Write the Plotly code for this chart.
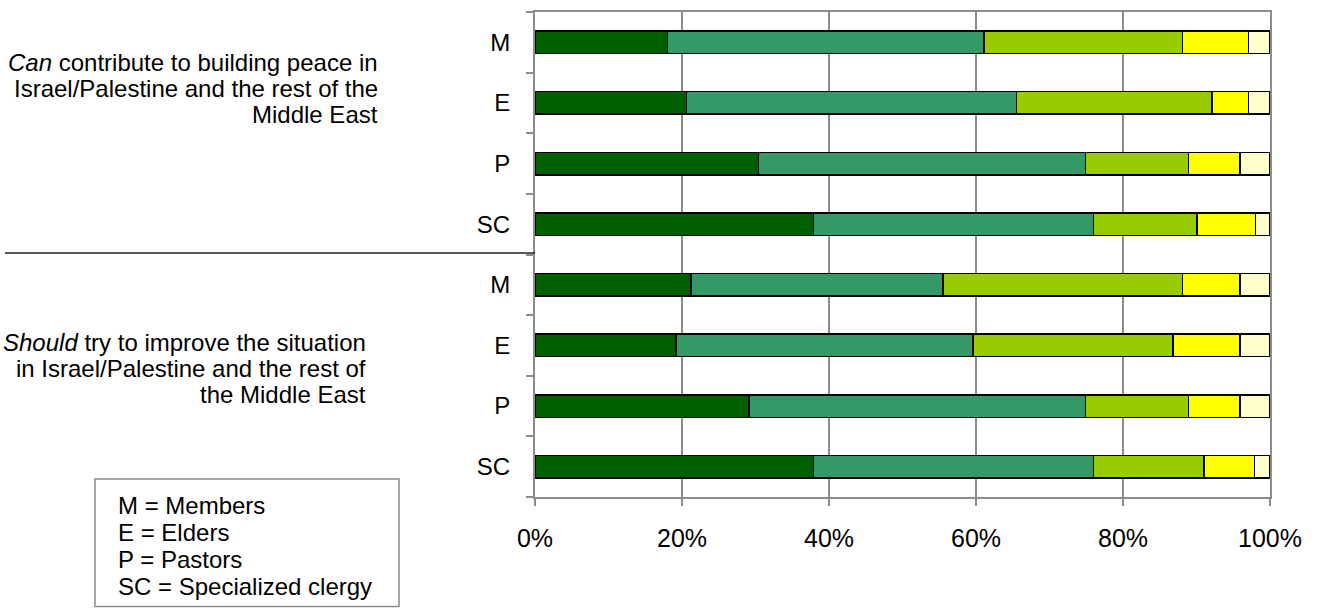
import plotly.graph_objects as go

# ---- data (top row first) ----
row_labels = ["M", "E", "P", "SC", "M", "E", "P", "SC"]
series_names = ["Strongly agree", "Agree", "Not sure", "Disagree", "Strongly disagree"]
strongly_agree = [18.0, 20.6, 30.4, 37.9, 21.2, 19.2, 29.1, 37.9]
agree = [43.1, 44.9, 44.5, 38.1, 34.3, 40.4, 45.8, 38.1]
not_sure = [27.0, 26.6, 14.0, 14.1, 32.6, 27.2, 14.0, 15.0]
disagree = [9.0, 5.0, 7.0, 7.9, 7.8, 9.1, 7.0, 6.9]
strongly_disagree = [2.9, 2.9, 4.1, 2.0, 4.1, 4.1, 4.1, 2.1]
x_ticks = [0, 20, 40, 60, 80, 100]

can_lines = ["<i>Can</i> contribute to building peace in",
             "Israel/Palestine and the rest of the",
             "Middle East"]
should_lines = ["<i>Should</i> try to improve the situation",
                "in Israel/Palestine and the rest of",
                "the Middle East"]
key_lines = ["M = Members", "E = Elders", "P = Pastors", "SC = Specialized clergy"]

colors = ["#006000", "#339966", "#99CC00", "#FFFF00", "#FFFFCC"]
series = [strongly_agree, agree, not_sure, disagree, strongly_disagree]
ypos = list(range(len(row_labels)))

FONT = "Liberation Sans, Arial, sans-serif"
W, H = 1317, 608
L, R, T, B = 535, 47, 10, 111
PW, PH = W - L - R, H - T - B


def px(x):
    return (x - L) / PW


def py(y):
    return (H - B - y) / PH


fig = go.Figure()
for name, vals, col in zip(series_names, series, colors):
    fig.add_trace(go.Bar(
        x=vals, y=ypos, orientation="h", name=name,
        marker=dict(color=col, line=dict(color="#000000", width=1.5)),
        width=0.37, showlegend=False,
    ))

fig.update_layout(
    width=W, height=H, barmode="stack",
    margin=dict(l=L, r=R, t=T, b=B, pad=0),
    paper_bgcolor="white", plot_bgcolor="white",
    font=dict(family=FONT, size=24, color="#000000"),
    xaxis=dict(
        range=[0, 100], tickvals=x_ticks, ticktext=[f"{v}%" for v in x_ticks],
        showgrid=True, gridcolor="#8c8c8c", gridwidth=2,
        showline=True, linecolor="#8c8c8c", linewidth=2, mirror=True,
        ticks="outside", ticklen=7, tickcolor="#8c8c8c", tickwidth=2,
        ticklabelstandoff=11, tickfont=dict(size=25), zeroline=False,
    ),
    yaxis=dict(
        range=[7.5, -0.5], tickvals=ypos, ticktext=row_labels,
        showgrid=False, zeroline=False,
        showline=True, linecolor="#8c8c8c", linewidth=2, mirror=True,
        ticks="", ticklabelstandoff=18, tickfont=dict(size=24),
        minor=dict(tickvals=[i - 0.5 for i in range(len(row_labels) + 1)],
                   ticks="outside", ticklen=7, tickcolor="#8c8c8c", tickwidth=2,
                   showgrid=False),
    ),
)

# separator line between the two question blocks
fig.add_shape(type="line", xref="paper", yref="paper",
              x0=px(5), x1=px(535), y0=py(252), y1=py(252),
              line=dict(color="#222222", width=1.5))

# key box
fig.add_shape(type="rect", xref="paper", yref="paper",
              x0=px(95), x1=px(399), y0=py(479), y1=py(607),
              line=dict(color="#8c8c8c", width=1.5), fillcolor="rgba(0,0,0,0)")


def text_lines(lines, x, y_first, step, anchor):
    for i, t in enumerate(lines):
        fig.add_annotation(xref="paper", yref="paper", x=px(x), y=py(y_first + i * step),
                           xanchor=anchor, yanchor="middle", align=anchor,
                           showarrow=False, text=t, font=dict(size=24))


text_lines(can_lines, 380, 61, 26, "right")
text_lines(should_lines, 368, 342, 26, "right")
text_lines(key_lines, 116, 506, 27, "left")

fig.write_html("out.html")
